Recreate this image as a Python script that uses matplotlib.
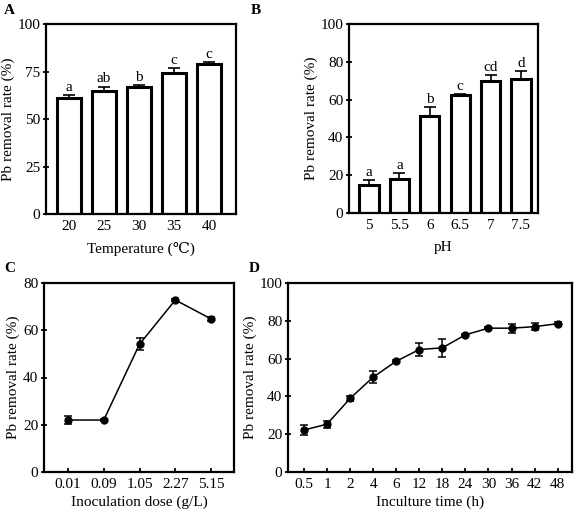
import matplotlib
matplotlib.use("Agg")
import matplotlib.pyplot as plt
import numpy as np

plt.rcParams['font.family'] = ['Liberation Serif', 'DejaVu Serif', 'DejaVu Sans']
plt.rcParams['font.size'] = 11
plt.rcParams['mathtext.fontset'] = 'stix'

# Panel A
temp_labels = ['20', '25', '30', '35', '40']
temp_vals = [60.8, 64.5, 67.0, 74.2, 78.9]
temp_err = [1.8, 2.6, 1.0, 2.8, 1.2]
temp_sig = ['a', 'ab', 'b', 'c', 'c']

# Panel B
ph_labels = ['5', '5.5', '6', '6.5', '7', '7.5']
ph_vals = [14.6, 18.1, 51.2, 62.3, 69.6, 71.0]
ph_err = [2.8, 3.0, 4.8, 0.6, 3.5, 4.0]
ph_sig = ['a', 'a', 'b', 'c', 'cd', 'd']

# Panel C
dose_labels = ['0.01', '0.09', '1.05', '2.27', '5.15']
dose_vals = [22.0, 22.0, 54.1, 72.8, 64.8]
dose_err = [1.6, 0.4, 2.6, 0.6, 1.0]

# Panel D
time_labels = ['0.5', '1', '2', '4', '6', '12', '18', '24', '30', '36', '42', '48']
time_vals = [22.2, 25.3, 38.9, 50.2, 58.6, 64.8, 65.7, 72.6, 76.1, 76.1, 76.9, 78.5]
time_err = [2.6, 1.8, 1.5, 3.0, 0.5, 3.4, 4.8, 0.5, 0.6, 2.4, 2.0, 0.7]

W, H = 574, 516
fig = plt.figure(figsize=(W / 100, H / 100), dpi=100)


def mk(x0, y0, x1, y1):
    return fig.add_axes([x0 / W, 1 - y1 / H, (x1 - x0) / W, (y1 - y0) / H])


def style(ax):
    for s in ax.spines.values():
        s.set_linewidth(1.6)
    ax.tick_params(axis='x', direction='in', length=3, width=1.3, pad=4)
    ax.tick_params(axis='y', direction='inout', length=4, width=1.3, pad=2)


def bars(ax, labels, vals, err, sig, width, ylim, yticks, xlim, xlabel):
    x = np.arange(len(labels))
    ax.bar(x, vals, width=width, color='white', edgecolor='black', linewidth=2.2, zorder=2)
    ax.errorbar(x, vals, yerr=[np.zeros(len(err)), err], fmt='none', ecolor='black',
                elinewidth=1.2, capsize=4, capthick=1.2, zorder=3)
    for xi, v, e, s in zip(x, vals, err, sig):
        ax.text(xi, v + e + 0.6, s, ha='center', va='bottom', fontsize=11)
    ax.set_xlim(*xlim)
    ax.set_ylim(*ylim)
    ax.set_yticks(yticks)
    ax.set_xticks(x)
    ax.set_xticklabels(labels)
    ax.set_ylabel('Pb removal rate (%)', labelpad=2)
    ax.set_xlabel(xlabel, labelpad=7)
    style(ax)


axA = mk(46, 24, 236, 214)
bars(axA, temp_labels, temp_vals, temp_err, temp_sig, 0.68, (0, 100), [0, 25, 50, 75, 100],
     (-0.66, 4.77), 'Temperature (℃)')

axB = mk(349, 24, 538, 213)
bars(axB, ph_labels, ph_vals, ph_err, ph_sig, 0.63, (0, 100), [0, 20, 40, 60, 80, 100],
     (-0.66, 5.56), 'pH')


def line(ax, labels, vals, err, ylim, yticks, xlim, xlabel):
    x = np.arange(len(labels))
    ax.errorbar(x, vals, yerr=err, fmt='-o', color='black', ms=5, lw=1.1,
                elinewidth=1.1, capsize=3, capthick=1.1)
    ax.set_xlim(*xlim)
    ax.set_ylim(*ylim)
    ax.set_yticks(yticks)
    ax.set_xticks(x)
    ax.set_xticklabels(labels)
    ax.set_ylabel('Pb removal rate (%)', labelpad=2)
    ax.set_xlabel(xlabel, labelpad=3.5)
    style(ax)


axC = mk(44, 283, 234, 472)
line(axC, dose_labels, dose_vals, dose_err, (0, 80), [0, 20, 40, 60, 80], (-0.67, 4.64),
     'Inoculation dose (g/L)')

axD = mk(288, 283, 572, 472)
line(axD, time_labels, time_vals, time_err, (0, 100), [0, 20, 40, 60, 80, 100], (-0.69, 11.62),
     'Inculture time (h)')

for t, xp, yp in [('A', 4, 4), ('B', 251, 4), ('C', 4, 262), ('D', 249, 262)]:
    fig.text(xp / W, 1 - yp / H, t, ha='left', va='top', fontsize=11, fontweight='bold')

fig.savefig('out.png', dpi=100)
